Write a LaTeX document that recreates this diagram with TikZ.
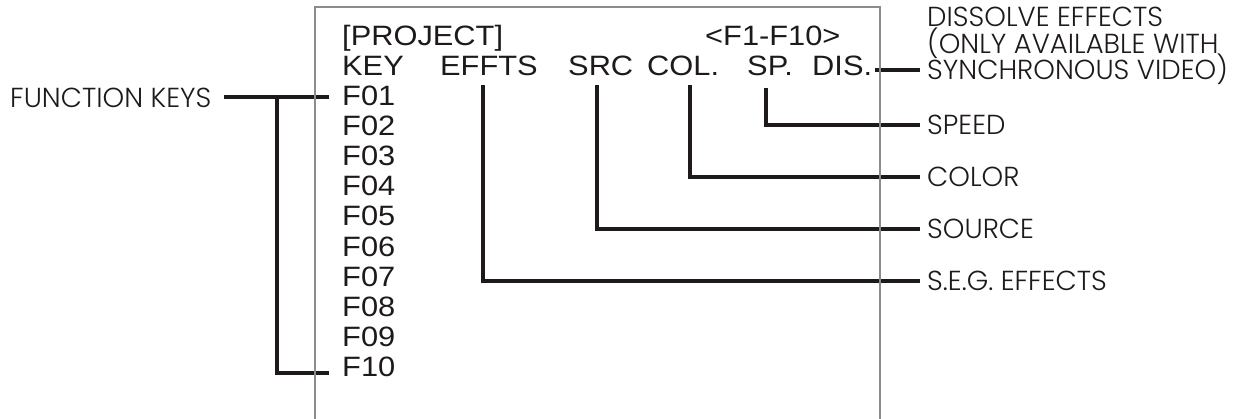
\documentclass[tikz,border=0pt]{standalone}
\usepackage{fontspec}
\setmainfont{Liberation Sans}
\newfontfamily\boxfont{Liberation Sans}[FakeStretch=1.1]
\newfontfamily\labfont{Poppins Light}
\definecolor{ink}{HTML}{1E1A1A}
\definecolor{framegray}{HTML}{8C8C8C}
\begin{document}
\begin{tikzpicture}[x=1pt,y=-1pt,
  boxtxt/.style={inner sep=0pt, anchor=base west, text=ink,
                 font=\boxfont\fontsize{28}{28}\selectfont},
  lab/.style={inner sep=0pt, anchor=west, text height=19.5pt, text depth=0pt,
              text=ink, font=\labfont\fontsize{27.5}{27.5}\selectfont},
  conn/.style={line width=4.5pt, draw=ink},
  frameline/.style={line width=1.5pt, draw=framegray}]
\useasboundingbox (0,0) rectangle (1250,418);

% box text
\node[boxtxt] (proj) at (342,45) {[PROJECT]};
\node[boxtxt] (range) at (705,45) {<F1-F10>};
\node[boxtxt] (key) at (342,75) {KEY};
\node[boxtxt] (effts) at (440,75) {EFFTS};
\node[boxtxt] (src) at (568,75) {SRC};
\node[boxtxt] (col) at (647,75) {COL.};
\node[boxtxt] (sp) at (747,75) {SP.};
\node[boxtxt] (dis) at (812,75) {DIS.};
\foreach \i/\t in {1/F01,2/F02,3/F03,4/F04,5/F05,6/F06,7/F07,8/F08,9/F09,10/F10}{
  \node[boxtxt] (f\i) at (342,{105+30.2*(\i-1)}) {\t};
}

% labels
\node[lab] (fk) at (10,98) {FUNCTION KEYS};
\node[lab] (dis1) at (927,17) {DISSOLVE EFFECTS};
\node[lab] (dis2) at (927,44) {(ONLY AVAILABLE WITH};
\node[lab] (dis3) at (927,70) {SYNCHRONOUS VIDEO)};
\node[lab] (speed) at (927,125) {SPEED};
\node[lab] (color) at (927,177) {COLOR};
\node[lab] (source) at (927,229) {SOURCE};
\node[lab] (seg) at (927,281) {S.E.G. EFFECTS};

% connectors
\coordinate (fkA) at (224,97);
\coordinate (fkJ) at (277,97);
\draw[conn] (fkA) -- ([xshift=-13pt,yshift=8pt]f1.base west);
\draw[conn] (fkJ) |- ([xshift=-13pt,yshift=4pt]f10.base west);
\draw[conn] ([xshift=43pt,yshift=-10pt]effts.base west) |- ([xshift=-7pt]seg.west);
\draw[conn] ([xshift=29pt,yshift=-10pt]src.base west) |- ([xshift=-7pt]source.west);
\draw[conn] ([xshift=43pt,yshift=-10pt]col.base west) |- ([xshift=-7pt]color.west);
\draw[conn] ([xshift=19pt,yshift=-13pt]sp.base west) |- ([xshift=-7pt]speed.west);
\draw[conn] ([xshift=3pt,yshift=5pt]dis.base east) -- ([xshift=-7pt]dis3.west);

% frame (open at the bottom)
\draw[frameline] (315,420) -- (315,7) -- (880,7) -- (880,420);
\end{tikzpicture}
\end{document}
